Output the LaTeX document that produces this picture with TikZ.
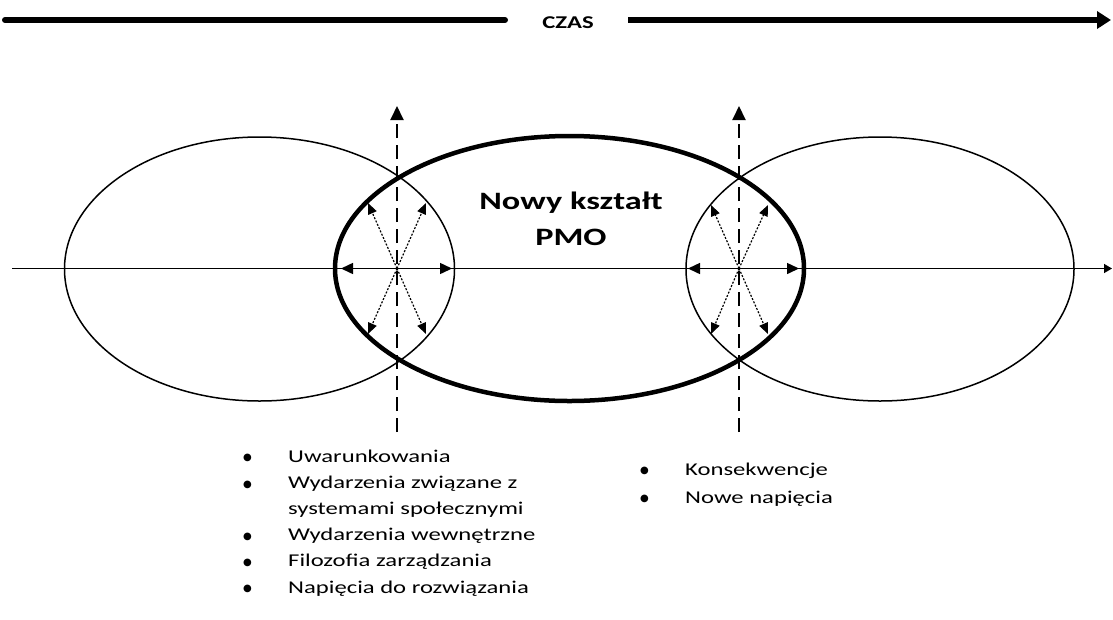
\documentclass[tikz,border=0pt]{standalone}
\usepackage{fontspec}
\setmainfont{Carlito}[FakeStretch=1.37]
\newfontfamily\bulletfont{DejaVu Sans}
\usetikzlibrary{shapes.geometric,arrows.meta}
\newcommand{\blt}{\raisebox{1.2pt}{\bulletfont\fontsize{10}{12}\selectfont ●}}
\begin{document}
\begin{tikzpicture}[x=1pt,y=-1pt,
  thinellipse/.style={ellipse,draw,line width=1.5pt,inner sep=0pt,minimum width=#1},
  boldellipse/.style={ellipse,draw,line width=4.5pt,inner sep=0pt},
  axisline/.style={line width=1.5pt,-{Triangle[length=8pt,width=9pt]}},
  timeline/.style={line width=6pt},
  dashedarrow/.style={line width=2pt,dash pattern=on 14pt off 7pt,-{Triangle[length=14pt,width=13pt]}},
  solidarrow/.style={line width=1.5pt,-{Triangle[length=12pt,width=11pt]}},
  dottedarrow/.style={line width=1.2pt,dash pattern=on 2pt off 1.6pt,-{Triangle[length=11pt,width=9pt]}},
  listtext/.style={font=\fontsize{18}{26.2}\selectfont,inner sep=0pt,anchor=base west}
]
\useasboundingbox (0,0) rectangle (1113,619);

% time arrow
\coordinate (t0) at (5,20);
\coordinate (t1) at (505,20);
\coordinate (t2) at (628,20);
\coordinate (t3) at (1111,20);
\draw[timeline,line cap=round] (t0) -- (t1);
\draw[timeline,-{Triangle[length=14pt,width=17pt]}] (t2) -- (t3);
\node[font=\fontsize{18}{20}\selectfont\bfseries,inner sep=0pt,anchor=base] (czas) at (568,28) {CZAS};

% ellipses
\node[thinellipse=390pt,minimum height=264pt] (L) at (259.5,269) {};
\node[thinellipse=388pt,minimum height=264pt] (R) at (880,269) {};
\node[boldellipse,minimum width=469pt,minimum height=265pt] (M) at (569.5,268.5) {};

% horizontal axis
\coordinate (a0) at (12,268.5);
\coordinate (a1) at (1112,268.5);
\draw[axisline] (a0) -- (a1);

% title
\node[font=\fontsize{25}{36}\selectfont\bfseries,align=center,inner sep=0pt,anchor=base] (title) at (571,245) {Nowy kształt\\PMO};

% left lens
\coordinate (c1) at (397,268.5);
\coordinate (v1b) at (397,432);
\coordinate (v1t) at (397,106);
\draw[dashedarrow] (v1b) -- (v1t);
\draw[solidarrow] (c1) -- (341,268.5);
\draw[solidarrow] (c1) -- (452,268.5);
\coordinate (d1a) at (368,203);
\coordinate (d1b) at (426,203);
\coordinate (d1c) at (368,334);
\coordinate (d1d) at (426,334);
\foreach \p in {d1a,d1b,d1c,d1d} \draw[dottedarrow] (c1) -- (\p);

% right lens
\coordinate (c2) at (739,268.5);
\coordinate (v2b) at (739,432);
\coordinate (v2t) at (739,106);
\draw[dashedarrow] (v2b) -- (v2t);
\draw[solidarrow] (c2) -- (688,268.5);
\draw[solidarrow] (c2) -- (799,268.5);
\coordinate (d2a) at (711,205);
\coordinate (d2b) at (768,205);
\coordinate (d2c) at (711,334);
\coordinate (d2d) at (768,334);
\foreach \p in {d2a,d2b,d2c,d2d} \draw[dottedarrow] (c2) -- (\p);

% lists
\node[listtext] (leftlist) at (243,462) {\begin{tabular}[t]{@{}p{45pt}@{}l@{}}
\blt & Uwarunkowania\\
\blt & Wydarzenia związane z\\
 & systemami społecznymi\\
\blt & Wydarzenia wewnętrzne\\
\blt & Filozofia zarządzania\\
\blt & Napięcia do rozwiązania
\end{tabular}};
\node[listtext,font=\fontsize{18}{28}\selectfont] (rightlist) at (640,475) {\begin{tabular}[t]{@{}p{45pt}@{}l@{}}
\blt & Konsekwencje\\
\blt & Nowe napięcia
\end{tabular}};
\end{tikzpicture}
\end{document}
